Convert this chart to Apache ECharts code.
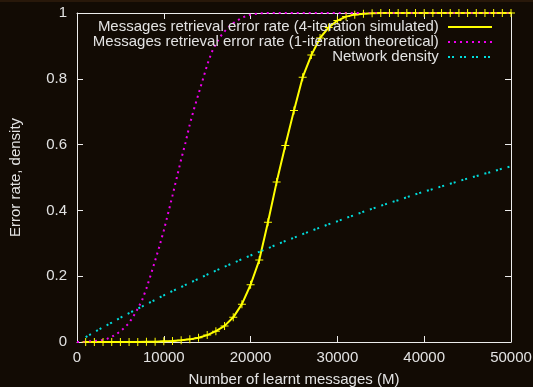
<!DOCTYPE html>
<html>
<head>
<meta charset="utf-8">
<script src="https://cdn.jsdelivr.net/npm/echarts@6/dist/echarts.min.js"></script>
<style>
  html, body { margin: 0; padding: 0; background: #120b04; }
  #chart { width: 533px; height: 387px; }
</style>
</head>
<body>
<div id="chart"></div>
<script>
// Number of learnt messages for the simulated runs and the density measurements
const msgCounts = [
  1000, 2000, 3000, 4000, 5000, 6000, 7000, 8000, 9000, 10000,
  11000, 12000, 13000, 14000, 15000, 16000, 17000, 18000, 19000, 20000,
  21000, 22000, 23000, 24000, 25000, 26000, 27000, 28000, 29000, 30000,
  31000, 32000, 33000, 34000, 35000, 36000, 37000, 38000, 39000, 40000,
  41000, 42000, 43000, 44000, 45000, 46000, 47000, 48000, 49000, 50000
];

// Retrieval error rate after 4 iterations (simulation)
const simulatedErr = [
  0, 0, 0, 0, 0, 0, 0, 0.001, 0.001, 0.002,
  0.003, 0.005, 0.008, 0.013, 0.021, 0.033, 0.049, 0.075, 0.115, 0.174,
  0.249, 0.364, 0.486, 0.597, 0.704, 0.805, 0.872, 0.924, 0.956, 0.977,
  0.989, 0.995, 0.998, 0.999, 1, 1, 1, 1, 1, 1,
  1, 1, 1, 1, 1, 1, 1, 1, 1, 1
];

// Network density
const densityVals = [
  0.015, 0.030, 0.045, 0.059, 0.074, 0.088, 0.101, 0.115, 0.128, 0.142,
  0.155, 0.167, 0.180, 0.192, 0.205, 0.217, 0.229, 0.240, 0.252, 0.263,
  0.274, 0.285, 0.296, 0.307, 0.317, 0.328, 0.338, 0.348, 0.358, 0.367,
  0.377, 0.386, 0.396, 0.405, 0.414, 0.423, 0.431, 0.440, 0.449, 0.457,
  0.465, 0.473, 0.481, 0.489, 0.497, 0.504, 0.512, 0.519, 0.527, 0.534
];

// Retrieval error rate after 1 iteration (theory)
const theoryMsgs = [
  0, 500, 1000, 1500, 2000, 2500, 3000, 3500, 4000, 4500,
  5000, 5500, 6000, 6500, 7000, 7500, 8000, 8500, 9000, 9500,
  10000, 10500, 11000, 11500, 12000, 12500, 13000, 13500, 14000, 14500,
  15000, 15500, 16000, 16500, 17000, 17500, 18000, 19000, 20000, 21000,
  22000, 30000, 40000, 50000
];
const theoryErr = [
  0, 0, 0.001, 0.002, 0.003, 0.004, 0.006, 0.010, 0.016, 0.023,
  0.033, 0.044, 0.058, 0.078, 0.101, 0.127, 0.163, 0.204, 0.247, 0.291,
  0.339, 0.391, 0.445, 0.500, 0.555, 0.606, 0.662, 0.710, 0.754, 0.798,
  0.842, 0.880, 0.906, 0.928, 0.944, 0.958, 0.969, 0.986, 0.995, 0.999,
  1, 1, 1, 1
];

const xTicks = { min: 0, max: 50000, step: 10000 };
const yTicks = { min: 0, max: 1, step: 0.2 };

const seriesNames = [
  'Messages retrieval error rate (4-iteration simulated)',
  'Messages retrieval error rate (1-iteration theoretical)',
  'Network density'
];

const FONT = 'Liberation Sans, Arial, Helvetica, sans-serif';
const TEXT = '#e2e2e2';
const FRAME = '#ececec';

const zip = (xs, ys) => xs.map((x, i) => [x, ys[i]]);

function xAxisCfg(pos) {
  const bottom = pos === 'bottom';
  return {
    type: 'value', position: pos,
    min: xTicks.min, max: xTicks.max, interval: xTicks.step,
    axisLine: { show: true, onZero: false, lineStyle: { color: FRAME, width: 1 } },
    axisTick: { show: true, inside: true, length: 6, lineStyle: { color: FRAME, width: 1 } },
    axisLabel: {
      show: bottom, color: TEXT, fontSize: 15, fontFamily: FONT, margin: 8,
      formatter: v => String(v)
    },
    splitLine: { show: false },
    name: bottom ? 'Number of learnt messages (M)' : '',
    nameLocation: 'middle', nameGap: 30,
    nameTextStyle: { color: TEXT, fontSize: 15, fontFamily: FONT }
  };
}

function yAxisCfg(pos) {
  const left = pos === 'left';
  return {
    type: 'value', position: pos,
    min: yTicks.min, max: yTicks.max, interval: yTicks.step,
    axisLine: { show: true, onZero: false, lineStyle: { color: FRAME, width: 1 } },
    axisTick: { show: true, inside: true, length: 6, lineStyle: { color: FRAME, width: 1 } },
    axisLabel: {
      show: left, color: TEXT, fontSize: 15, fontFamily: FONT, margin: 10,
      formatter: v => String(Math.round(v * 10) / 10)
    },
    splitLine: { show: false },
    name: left ? 'Error rate, density' : '',
    nameLocation: 'middle', nameGap: 54,
    nameTextStyle: { color: TEXT, fontSize: 15, fontFamily: FONT }
  };
}

const plusMark = 'path://M0,3.5H3.5V0H4.5V3.5H8V4.5H4.5V8H3.5V4.5H0Z';

const chart = echarts.init(document.getElementById('chart'), null, { renderer: 'canvas' });
chart.setOption({
  backgroundColor: '#120b04',
  animation: false,
  graphic: [{
    type: 'rect', left: 0, top: 0, silent: true,
    shape: { width: 533, height: 2 }, style: { fill: '#28180a' }
  }],
  grid: { left: 77, right: 22, top: 13, bottom: 45, containLabel: false, outerBoundsMode: 'none' },
  xAxis: [xAxisCfg('bottom'), xAxisCfg('top')],
  yAxis: [yAxisCfg('left'), yAxisCfg('right')],
  legend: {
    orient: 'vertical', right: 40, top: 19.5, padding: 0,
    itemGap: 0, itemWidth: 44, itemHeight: 10, align: 'right',
    selectedMode: false,
    itemStyle: { opacity: 0 },
    formatter: '{name} ',
    textStyle: { color: TEXT, fontSize: 15, fontFamily: FONT, lineHeight: 15 },
    data: seriesNames
  },
  series: [
    {
      name: seriesNames[0], type: 'line',
      xAxisIndex: 0, yAxisIndex: 0,
      data: zip(msgCounts, simulatedErr),
      symbol: plusMark, symbolSize: 8, showSymbol: true,
      itemStyle: { color: '#ffff00' },
      lineStyle: { color: '#ffff00', width: 2 },
      clip: false, emphasis: { disabled: true }
    },
    {
      name: seriesNames[1], type: 'line',
      xAxisIndex: 0, yAxisIndex: 0,
      data: zip(theoryMsgs, theoryErr),
      symbol: 'none',
      itemStyle: { color: '#ee00ee' },
      lineStyle: { color: '#ee00ee', width: 2, type: [2, 4], cap: 'butt' },
      clip: false, emphasis: { disabled: true }
    },
    {
      name: seriesNames[2], type: 'line',
      xAxisIndex: 0, yAxisIndex: 0,
      data: zip(msgCounts, densityVals),
      symbol: 'none',
      itemStyle: { color: '#00dcdc' },
      lineStyle: { color: '#00dcdc', width: 2, type: [2, 2, 2, 6], cap: 'butt' },
      clip: false, emphasis: { disabled: true }
    }
  ]
});
</script>
</body>
</html>
